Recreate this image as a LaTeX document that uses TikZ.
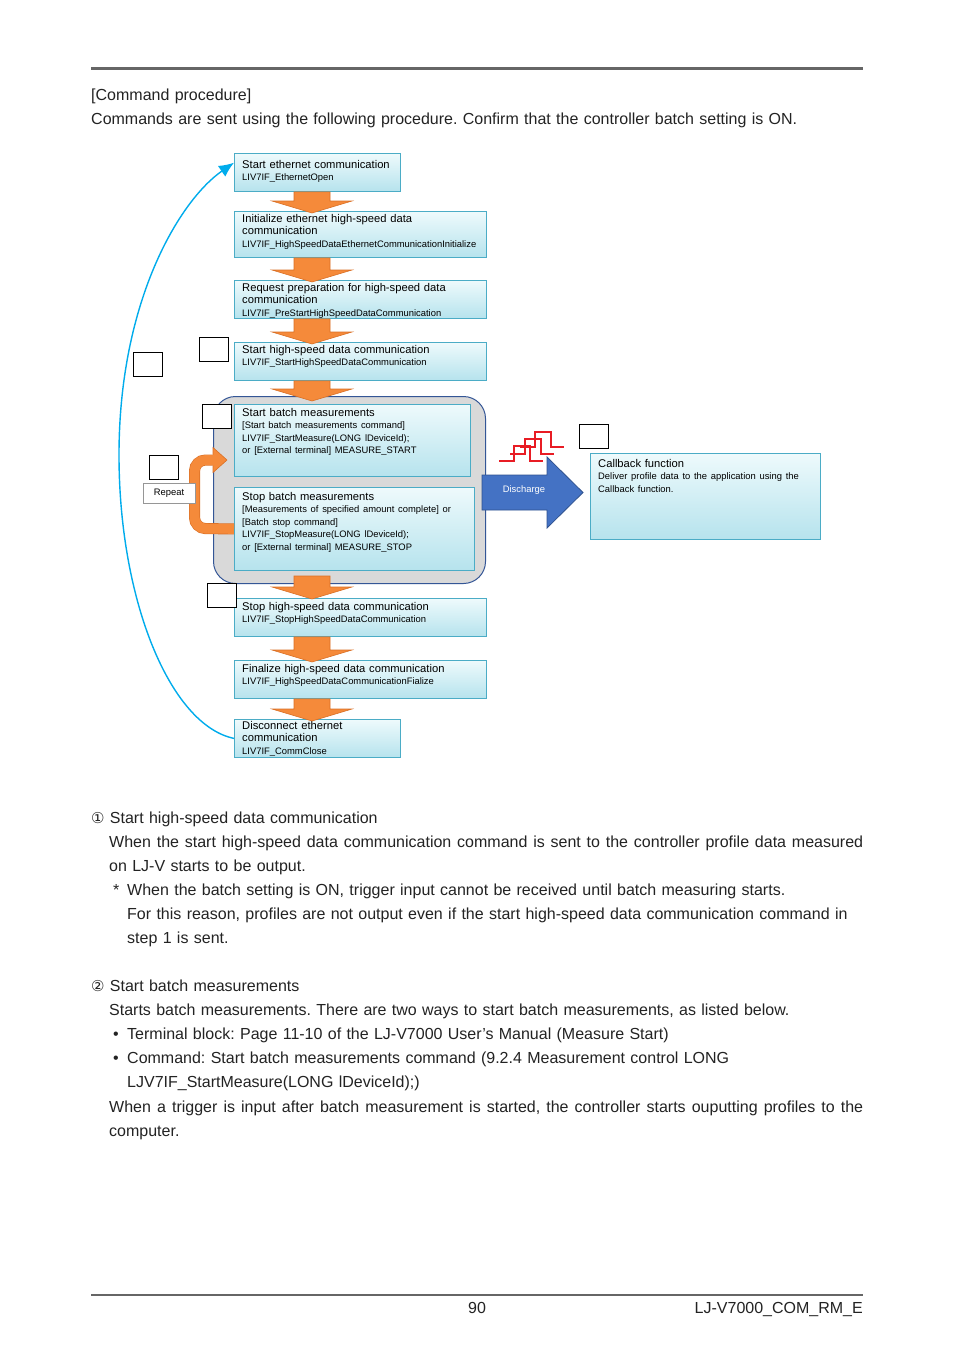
\documentclass[tikz,border=0pt]{standalone}
\usepackage{fontspec}
\setmainfont{Liberation Sans}
\newfontfamily\symfont{DejaVu Sans}
\usetikzlibrary{arrows.meta,calc}
\frenchspacing

\definecolor{boxline}{RGB}{75,172,198}
\definecolor{boxtop}{RGB}{238,250,252}
\definecolor{boxbot}{RGB}{182,227,237}
\definecolor{grpfill}{RGB}{217,217,217}
\definecolor{grpline}{RGB}{52,86,150}
\definecolor{orfill}{RGB}{245,138,58}
\definecolor{orline}{RGB}{218,112,38}
\definecolor{disfill}{RGB}{68,114,196}
\definecolor{disline}{RGB}{47,82,143}
\definecolor{loopblue}{RGB}{0,172,236}
\definecolor{pulsered}{RGB}{232,28,36}
\definecolor{rulegray}{RGB}{102,102,102}
\definecolor{labelgray}{RGB}{150,150,150}
\definecolor{pagegray}{RGB}{35,35,35}

\newcommand\ttlfont{\fontsize{11.2}{12.5}\selectfont}
\newcommand\subtxtfont{\fontsize{9.4}{12.5}\selectfont}
\newcommand\pgtxtfont{\fontsize{16}{24}\selectfont}
\newcommand\fullline[1]{\makebox[754pt][s]{\spaceskip=4.4pt plus 1fil\relax #1}}

\tikzset{
  stepbox/.style={draw=boxline, top color=boxtop, bottom color=boxbot, line width=0.8pt, anchor=north west, inner sep=0pt},
  steptext/.style={anchor=base west, inner sep=0pt, text width=250pt, align=left, font=\ttlfont},
  batchgroup/.style={draw=grpline, fill=grpfill, line width=1pt, rounded corners=22pt, anchor=north west, minimum width=272pt, minimum height=187pt},
  blockarrow/.style={fill=orfill, draw=orline, line width=0.6pt},
  numbox/.style={draw=black, fill=white, line width=0.7pt, minimum width=29pt, minimum height=24pt, inner sep=0pt},
  pagetext/.style={anchor=base west, inner sep=0pt, text width=760pt, align=left, font=\pgtxtfont, text=pagegray},
  loopline/.style={draw=loopblue, line width=1.4pt, -{Latex[length=15pt,width=13pt]}},
  repeatband/.style={draw=orline, line width=0.6pt, double=orfill, double distance=9.8pt, rounded corners=11pt},
  pulse/.style={draw=pulsered, line width=1.3pt},
}

\begin{document}
\begin{tikzpicture}[x=1pt,y=-1pt]
\useasboundingbox (0,0) rectangle (954,1350);
\fill[white] (0,0) rectangle (954,1350);

% page rules
\draw[line width=3pt, rulegray] (91,68) -- (863,68);
\draw[line width=2pt, rulegray] (91,1295) -- (863,1295);

\node[pagetext] (intro) at (91,100) {[Command procedure]\\Commands are sent using the following procedure. Confirm that the controller batch setting is ON.};

%%%% batch group
\node[batchgroup] (batch) at (213,396) {};

%%%% steps
\node[stepbox, minimum width=166pt, minimum height=38pt] (open) at (234,153) {};
\node[stepbox, minimum width=252pt, minimum height=46pt] (init) at (234,211) {};
\node[stepbox, minimum width=252pt, minimum height=38pt] (prep) at (234,280) {};
\node[stepbox, minimum width=252pt, minimum height=38pt] (hsstart) at (234,342) {};
\node[stepbox, minimum width=236pt, minimum height=72pt] (mstart) at (234,404) {};
\node[stepbox, minimum width=240pt, minimum height=83pt] (mstop) at (234,487) {};
\node[stepbox, minimum width=252pt, minimum height=38pt] (hsstop) at (234,598) {};
\node[stepbox, minimum width=252pt, minimum height=38pt] (final) at (234,660) {};
\node[stepbox, minimum width=166pt, minimum height=38pt] (close) at (234,719) {};
\node[stepbox, minimum width=230pt, minimum height=86pt] (callback) at (590,453) {};

\node[steptext] (opentxt) at ([shift={(8,15)}]open.north west) {Start ethernet communication\\{\subtxtfont LIV7IF\_EthernetOpen}};
\node[steptext] (inittxt) at ([shift={(8,11)}]init.north west) {Initialize ethernet high-speed data\\communication\\{\subtxtfont LIV7IF\_HighSpeedDataEthernetCommunicationInitialize}};
\node[steptext] (preptxt) at ([shift={(8,11)}]prep.north west) {Request preparation for high-speed data\\communication\\{\subtxtfont LIV7IF\_PreStartHighSpeedDataCommunication}};
\node[steptext] (hsstarttxt) at ([shift={(8,11)}]hsstart.north west) {Start high-speed data communication\\{\subtxtfont LIV7IF\_StartHighSpeedDataCommunication}};
\node[steptext] (mstarttxt) at ([shift={(8,12)}]mstart.north west) {Start batch measurements\\{\subtxtfont [Start batch measurements command]\\LIV7IF\_StartMeasure(LONG lDeviceId);\\or [External terminal] MEASURE\_START}};
\node[steptext] (mstoptxt) at ([shift={(8,13)}]mstop.north west) {Stop batch measurements\\{\subtxtfont [Measurements of specified amount complete] or\\{}[Batch stop command]\\LIV7IF\_StopMeasure(LONG lDeviceId);\\or [External terminal] MEASURE\_STOP}};
\node[steptext] (hsstoptxt) at ([shift={(8,12)}]hsstop.north west) {Stop high-speed data communication\\{\subtxtfont LIV7IF\_StopHighSpeedDataCommunication}};
\node[steptext] (finaltxt) at ([shift={(8,12)}]final.north west) {Finalize high-speed data communication\\{\subtxtfont LIV7IF\_HighSpeedDataCommunicationFialize}};
\node[steptext] (closetxt) at ([shift={(8,10)}]close.north west) {Disconnect ethernet\\communication\\{\subtxtfont LIV7IF\_CommClose}};
\node[steptext] (callbacktxt) at ([shift={(8,14)}]callback.north west) {Callback function\\{\subtxtfont Deliver profile data to the application using the\\Callback function.}};

%%%% orange arrows between steps
\coordinate (ax) at (312,0);
\foreach \a/\b/\s/\t in {open/init/0/2, init/prep/0/2, prep/hsstart/0/2, hsstart/batch/0/5, batch/hsstop/-8/1, hsstop/final/0/2, final/close/0/2} {
  \path (\a.south -| ax) ++(0,\s) coordinate (p) (\b.north -| ax) ++(0,\t) coordinate (q);
  \filldraw[blockarrow] ($(p)+(-18,0)$) -- ($(q)+(-18,-12)$) -- ($(q)+(-40,-12)$) -- (q) -- ($(q)+(40,-12)$) -- ($(q)+(18,-12)$) -- ($(p)+(18,0)$) -- cycle;
}

%%%% repeat
\coordinate (rpt) at (215,460);
\draw[repeatband] (mstop.west) -- (194.5,528.5) -- (194.5,460) -- (rpt);
\fill[orfill] (213,447.5) -- (227,460) -- (213,472.5) -- cycle;
\draw[orline, line width=0.6pt] (213,454.5) -- (213,447.5) -- (227,460) -- (213,472.5) -- (213,465.5);
\node[draw=labelgray, fill=white, minimum width=52pt, minimum height=20pt, inner sep=0pt, font=\subtxtfont] (rptlbl) at (169,493) {Repeat};

%%%% discharge
\filldraw[fill=disfill, draw=disline, line width=0.8pt] (482,475) -- (547,475) -- (547,457) -- (583,492.5) -- (547,528) -- (547,510) -- (482,510) -- cycle;
\node[text=white, font=\subtxtfont, inner sep=0pt] (dis) at (524,490) {Discharge};
\foreach \dx/\dy in {0/0, 11/-7, 21/-14}
  \draw[pulse] (499+\dx,461+\dy) -- (514+\dx,461+\dy) -- (514+\dx,446+\dy) -- (530+\dx,446+\dy) -- (530+\dx,461+\dy) -- (543+\dx,461+\dy);

%%%% loop back to the start
\coordinate (loopend) at ($(open.north west)!0.25!(open.south west)$);
\draw[loopline] (close.west) .. controls (170,725) and (119,600) .. (119,455) .. controls (119,300) and (180,200) .. (loopend);

%%%% number boxes
\foreach \n/\x/\y in {a/147.5/364.5, b/213.5/349, c/217/416, d/164/467, e/222/595, f/593.5/436}
  \node[numbox] (num\n) at (\x,\y) {};

%%%% notes
\node[pagetext] (note1) at (91,823) {{\symfont\fontsize{15}{24}\selectfont ①} Start high-speed data communication};
\node[pagetext] (note1a) at (109,847) {\fullline{When the start high-speed data communication command is sent to the controller profile data measured}\\on LJ-V starts to be output.};
\node[pagetext] (star) at (113,895) {*};
\node[pagetext] (note1b) at (127,895) {When the batch setting is ON, trigger input cannot be received until batch measuring starts.\\For this reason, profiles are not output even if the start high-speed data communication command in\\step 1 is sent.};
\node[pagetext] (note2) at (91,991) {{\symfont\fontsize{15}{24}\selectfont ②} Start batch measurements};
\node[pagetext] (note2a) at (109,1015) {Starts batch measurements. There are two ways to start batch measurements, as listed below.};
\node[pagetext] (bul1) at (113,1039) {•};
\node[pagetext] (bul2) at (113,1063) {•};
\node[pagetext] (note2b) at (127,1039) {Terminal block: Page 11-10 of the LJ-V7000 User's Manual (Measure Start)\\Command: Start batch measurements command (9.2.4 Measurement control LONG\\LJV7IF\_StartMeasure(LONG lDeviceId);)};
\node[pagetext] (note2c) at (109,1112) {\fullline{When a trigger is input after batch measurement is started, the controller starts ouputting profiles to the}\\computer.};

%%%% footer
\node[font=\pgtxtfont, text=pagegray, anchor=base, inner sep=0pt] (pageno) at (477,1313) {90};
\node[font=\pgtxtfont, text=pagegray, anchor=base east, inner sep=0pt] (docid) at (863,1313) {LJ-V7000\_COM\_RM\_E};
\end{tikzpicture}
\end{document}
